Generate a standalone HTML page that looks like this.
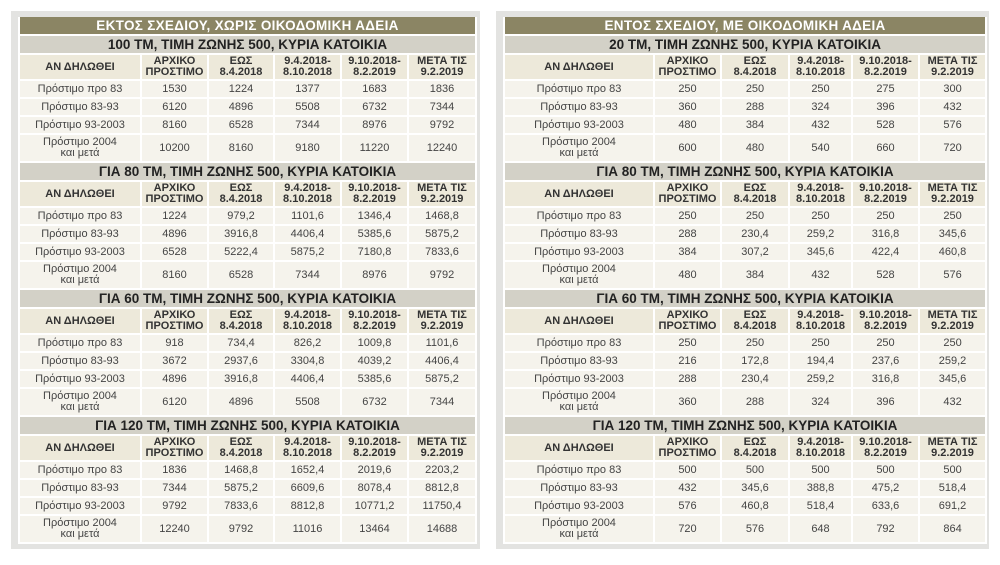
<!DOCTYPE html>
<html><head><meta charset="utf-8"><style>
*{margin:0;padding:0;box-sizing:border-box}
body{width:1000px;height:565px;background:#fff;font-family:"Liberation Sans","DejaVu Sans",sans-serif;position:relative;overflow:hidden}
.panel{position:absolute;top:11px;background:#e3e3e1;}
.inner{position:absolute;top:6px;}
table{border-collapse:collapse;width:100%;table-layout:fixed}
td{border:2px solid #fff;text-align:center;color:#444;font-size:11px;padding:0;line-height:11px}
.title td{background:#8b8564;color:#fff;font-weight:bold;font-size:13.5px;height:18px;border-top:0;letter-spacing:0.3px}
.sec td{background:#d3d1c7;color:#222;font-weight:bold;font-size:13.5px;height:19px}
.ch td{background:#ede9da;color:#333;font-weight:bold;font-size:11px;height:26px}
.r td{background:#f5f3ec;height:18px}
.r.t td{height:28px}
</style></head><body>
<div id="L" class="panel" style="left:11px;width:469px;height:538px"><div class="inner" style="left:7px;width:457px"></div></div>
<div id="R" class="panel" style="left:496px;width:493px;height:538px"><div class="inner" style="left:7px;width:482px"></div></div>
<script>
const leftTitle="ΕΚΤΟΣ ΣΧΕΔΙΟΥ, ΧΩΡΙΣ ΟΙΚΟΔΟΜΙΚΗ ΑΔΕΙΑ";
const rightTitle="ΕΝΤΟΣ ΣΧΕΔΙΟΥ, ΜΕ ΟΙΚΟΔΟΜΙΚΗ ΑΔΕΙΑ";
const colHeads=["ΑΝ ΔΗΛΩΘΕΙ","ΑΡΧΙΚΟ<br>ΠΡΟΣΤΙΜΟ","ΕΩΣ<br>8.4.2018","9.4.2018-<br>8.10.2018","9.10.2018-<br>8.2.2019","ΜΕΤΑ ΤΙΣ<br>9.2.2019"];
const rowLabels=["Πρόστιμο προ 83","Πρόστιμο 83-93","Πρόστιμο 93-2003","Πρόστιμο 2004<br>και μετά"];
const leftSections=["100 ΤΜ, ΤΙΜΗ ΖΩΝΗΣ 500, ΚΥΡΙΑ ΚΑΤΟΙΚΙΑ","ΓΙΑ 80 ΤΜ, ΤΙΜΗ ΖΩΝΗΣ 500, ΚΥΡΙΑ ΚΑΤΟΙΚΙΑ","ΓΙΑ 60 ΤΜ, ΤΙΜΗ ΖΩΝΗΣ 500, ΚΥΡΙΑ ΚΑΤΟΙΚΙΑ","ΓΙΑ 120 ΤΜ, ΤΙΜΗ ΖΩΝΗΣ 500, ΚΥΡΙΑ ΚΑΤΟΙΚΙΑ"];
const rightSections=["20 ΤΜ, ΤΙΜΗ ΖΩΝΗΣ 500, ΚΥΡΙΑ ΚΑΤΟΙΚΙΑ","ΓΙΑ 80 ΤΜ, ΤΙΜΗ ΖΩΝΗΣ 500, ΚΥΡΙΑ ΚΑΤΟΙΚΙΑ","ΓΙΑ 60 ΤΜ, ΤΙΜΗ ΖΩΝΗΣ 500, ΚΥΡΙΑ ΚΑΤΟΙΚΙΑ","ΓΙΑ 120 ΤΜ, ΤΙΜΗ ΖΩΝΗΣ 500, ΚΥΡΙΑ ΚΑΤΟΙΚΙΑ"];
const leftValues=[
[["1530","1224","1377","1683","1836"],["6120","4896","5508","6732","7344"],["8160","6528","7344","8976","9792"],["10200","8160","9180","11220","12240"]],
[["1224","979,2","1101,6","1346,4","1468,8"],["4896","3916,8","4406,4","5385,6","5875,2"],["6528","5222,4","5875,2","7180,8","7833,6"],["8160","6528","7344","8976","9792"]],
[["918","734,4","826,2","1009,8","1101,6"],["3672","2937,6","3304,8","4039,2","4406,4"],["4896","3916,8","4406,4","5385,6","5875,2"],["6120","4896","5508","6732","7344"]],
[["1836","1468,8","1652,4","2019,6","2203,2"],["7344","5875,2","6609,6","8078,4","8812,8"],["9792","7833,6","8812,8","10771,2","11750,4"],["12240","9792","11016","13464","14688"]]];
const rightValues=[
[["250","250","250","275","300"],["360","288","324","396","432"],["480","384","432","528","576"],["600","480","540","660","720"]],
[["250","250","250","250","250"],["288","230,4","259,2","316,8","345,6"],["384","307,2","345,6","422,4","460,8"],["480","384","432","528","576"]],
[["250","250","250","250","250"],["216","172,8","194,4","237,6","259,2"],["288","230,4","259,2","316,8","345,6"],["360","288","324","396","432"]],
[["500","500","500","500","500"],["432","345,6","388,8","475,2","518,4"],["576","460,8","518,4","633,6","691,2"],["720","576","648","792","864"]]];
const leftWidths=[122,67,66,67,67,68];
const rightWidths=[150,67,68,63,67,67];
function build(host,title,sections,values,widths,prefix){
  const t=document.createElement('table');
  
  
  const cg=document.createElement('colgroup');
  widths.forEach(w=>{const c=document.createElement('col');c.style.width=w+'px';cg.appendChild(c);});
  t.appendChild(cg);
  let tr=t.insertRow();tr.className='title';
  let td=tr.insertCell();td.colSpan=6;td.textContent=title;
  
  
  sections.forEach((s,si)=>{
    tr=t.insertRow();tr.className='sec';
    td=tr.insertCell();td.colSpan=6;td.textContent=s;
    
    
    tr=t.insertRow();tr.className='ch';
    
    
    colHeads.forEach(h=>{const c=tr.insertCell();c.innerHTML=h;});
    values[si].forEach((row,ri)=>{
      tr=t.insertRow();tr.className='r'+(ri==3?' t':'');
      
      
      const l=tr.insertCell();l.innerHTML=rowLabels[ri];
      row.forEach(v=>{const c=tr.insertCell();c.textContent=v;});
    });
  });
  host.appendChild(t);
}
build(document.querySelector('#L .inner'),leftTitle,leftSections,leftValues,leftWidths,'left');
build(document.querySelector('#R .inner'),rightTitle,rightSections,rightValues,rightWidths,'right');
</script>
</body></html>
